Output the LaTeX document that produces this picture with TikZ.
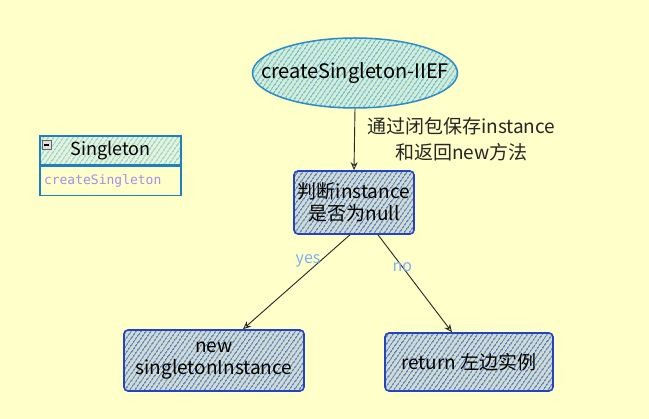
\documentclass[tikz,border=0pt]{standalone}
\usepackage{fontspec}
\setmainfont{Noto Sans CJK SC}
\setmonofont{DejaVu Sans Mono}
\usetikzlibrary{shapes.geometric,patterns.meta,arrows.meta,positioning}

\definecolor{bgyellow}{HTML}{FFFFCA}
\definecolor{ellblue}{HTML}{2A8BC8}
\definecolor{ellhatch}{HTML}{5DB9E0}
\definecolor{clshatch}{HTML}{86CCE6}
\definecolor{boxblue}{HTML}{2442C2}
\definecolor{boxhatch}{HTML}{4A74D0}
\definecolor{clsblue}{HTML}{1F80BE}
\definecolor{labblue}{HTML}{7FAEF2}
\definecolor{opcolor}{HTML}{9E90EE}

\tikzset{
  hatch/.style={pattern={Lines[angle=55,distance=4pt,line width=1.5pt]}},
  arr/.style={-{Stealth[open,length=8pt,width=7pt]},line width=0.9pt,black!85},
  flowbox/.style={draw=boxblue,line width=1.6pt,rounded corners=4pt,hatch,
    pattern color=boxhatch,preaction={fill=boxhatch,fill opacity=0.25},
    align=center,inner sep=0pt,font=\fontsize{19}{22}\selectfont},
  lbl/.style={text=labblue,font=\fontsize{16}{18}\selectfont}
}

\begin{document}
\begin{tikzpicture}[x=1pt,y=-1pt]
  \fill[bgyellow] (0,0) rectangle (649,419);
  \useasboundingbox (0,0) rectangle (649,419);

  % class box
  \node[draw=clsblue,line width=1.3pt,hatch,pattern color=clshatch,
    preaction={fill=clshatch,fill opacity=0.2},
    minimum width=141pt,minimum height=29pt,inner sep=0pt,
    font=\fontsize{18}{20}\selectfont] (cls) at (110.5,150.5) {Singleton};
  \node[draw=clsblue,line width=1.3pt,minimum width=141pt,minimum height=29pt,
    inner sep=0pt,text width=133pt,align=left,text=opcolor,
    font=\ttfamily\fontsize{13}{15}\selectfont,below=0pt of cls] (clsops) {createSingleton};
  \node[draw=black!60,fill=black!12,minimum size=9pt,inner sep=0pt] (clsicon) at (47,145) {\rule{5pt}{1.2pt}};

  % flow
  \node[ellipse,draw=ellblue,line width=1.5pt,hatch,pattern color=ellhatch,
    preaction={fill=ellhatch,fill opacity=0.25},
    minimum width=205pt,minimum height=70pt,inner xsep=-30pt,inner ysep=0pt,
    font=\fontsize{20}{22}\selectfont] (iief) at (355,73) {createSingleton-IIEF};
  \node[flowbox,minimum width=120pt,minimum height=63pt] (check) at (354,202.5) {判断instance\\是否为null};
  \node[flowbox,minimum width=180pt,minimum height=61pt] (newobj) at (214,360.5) {new\\singletonInstance};
  \node[flowbox,minimum width=168pt,minimum height=58pt] (retobj) at (469,362) {return 左边实例};

  \draw[arr] (iief.south) -- (check.north)
    node[midway,anchor=west,xshift=9pt,align=center,
      font=\fontsize{19}{26}\selectfont] {通过闭包保存instance\\和返回new方法};
  \draw[arr] ([xshift=-4pt]check.south) -- ([xshift=29pt]newobj.north)
    node[pos=0.28,xshift=-12pt,lbl] {yes};
  \draw[arr] ([xshift=24pt]check.south) -- ([xshift=-17pt]retobj.north)
    node[pos=0.33,lbl] {no};
\end{tikzpicture}
\end{document}
